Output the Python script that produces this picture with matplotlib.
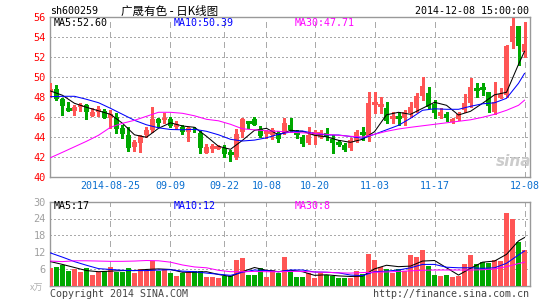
import matplotlib
matplotlib.use("Agg")
import matplotlib.pyplot as plt
import numpy as np

# daily candles 2014-08-11 .. 2014-12-08 (80 trading days)
opens = [48.53, 48.83, 47.80, 46.85, 46.66, 47.06, 47.23, 46.16, 46.56, 46.63,
         45.90, 46.00, 44.90, 44.23, 43.06, 43.46, 44.23, 44.73, 45.80, 45.73,
         45.80, 45.06, 45.06, 44.50, 44.85, 44.46, 42.46, 42.96, 42.83, 42.90,
         42.45, 42.06, 44.56, 45.55, 45.80, 44.80, 44.48, 44.20, 44.40, 44.46,
         45.23, 44.42, 44.00, 43.46, 44.38, 44.06, 44.46, 43.80, 43.52, 43.23,
         42.90, 43.66, 44.42, 44.10, 47.36, 47.16, 46.90, 46.03, 46.08, 45.90,
         46.40, 46.96, 48.16, 48.40, 47.30, 46.16, 46.33, 45.50, 45.83, 46.73,
         47.40, 48.85, 48.92, 48.50, 46.50, 47.96, 48.23, 53.56, 55.16, 52.56]
highs = [49.46, 49.23, 47.90, 47.50, 47.23, 47.46, 47.33, 46.90, 47.13, 46.80,
         46.73, 46.40, 45.23, 45.06, 43.73, 44.23, 45.06, 47.00, 45.90, 46.46,
         46.00, 45.66, 45.23, 45.06, 45.06, 44.66, 43.33, 43.33, 43.20, 43.23,
         42.73, 44.80, 45.90, 45.56, 46.00, 45.13, 44.73, 44.90, 44.66, 45.90,
         45.90, 44.73, 44.23, 45.06, 44.73, 44.73, 44.90, 44.23, 43.73, 43.40,
         43.90, 44.73, 45.06, 48.50, 48.56, 48.06, 47.50, 46.56, 46.56, 46.73,
         47.50, 48.40, 50.06, 49.06, 47.73, 46.90, 46.56, 45.96, 46.50, 48.30,
         49.90, 49.40, 49.40, 48.56, 49.56, 48.96, 53.23, 55.90, 55.16, 55.50]
lows = [48.06, 47.75, 46.26, 46.60, 46.26, 46.66, 45.80, 46.10, 46.16, 45.90,
        44.96, 44.46, 43.90, 42.66, 42.66, 42.56, 44.06, 44.56, 45.06, 45.40,
        45.06, 44.80, 44.33, 43.63, 44.50, 42.46, 42.40, 42.50, 42.80, 42.06,
        41.66, 41.80, 44.06, 44.90, 45.23, 44.06, 43.90, 43.80, 43.56, 44.33,
        44.56, 43.90, 43.16, 43.33, 43.33, 43.90, 43.73, 42.46, 43.10, 42.66,
        42.73, 43.56, 43.73, 43.60, 46.40, 46.40, 45.40, 45.40, 45.23, 45.23,
        46.06, 46.56, 47.73, 46.90, 45.90, 45.90, 45.63, 45.40, 45.73, 46.56,
        47.06, 48.06, 48.23, 46.50, 46.30, 47.90, 48.06, 52.96, 51.23, 52.06]
closes = [48.80, 47.80, 47.16, 46.80, 47.00, 47.20, 46.56, 46.56, 46.80, 45.96,
          46.33, 44.83, 44.33, 42.90, 43.53, 44.13, 44.73, 45.80, 45.46, 45.96,
          45.16, 45.30, 44.50, 44.90, 44.75, 42.90, 43.06, 43.00, 43.13, 42.33,
          42.40, 44.33, 45.80, 45.50, 45.23, 44.16, 44.52, 44.70, 43.83, 45.46,
          44.73, 44.38, 43.33, 44.23, 44.42, 44.56, 44.00, 43.40, 43.48, 42.73,
          43.73, 44.56, 44.38, 47.45, 47.40, 47.20, 45.63, 46.06, 46.04, 46.50,
          47.06, 48.16, 49.16, 47.06, 46.40, 46.56, 45.90, 45.83, 46.30, 47.40,
          49.06, 48.81, 48.88, 47.16, 47.50, 48.30, 53.16, 55.16, 53.16, 53.30]
# volume, x10k lots
volumes = [6.2, 6.8, 7.55, 5.4, 5.8, 4.8, 6.2, 4.0, 4.8, 5.4,
           6.6, 4.8, 4.8, 6.4, 4.4, 5.8, 5.1, 8.8, 5.1, 6.0,
           4.4, 3.6, 4.5, 4.8, 5.1, 5.4, 3.2, 3.2, 2.6, 3.6,
           3.6, 9.35, 10.0, 4.0, 4.0, 6.4, 3.2, 5.6, 4.4, 10.4,
           4.8, 3.2, 3.2, 4.4, 2.6, 4.4, 4.0, 3.6, 2.6, 2.6,
           2.6, 5.1, 4.2, 11.2, 9.35, 6.8, 5.8, 4.4, 5.8, 5.4,
           10.8, 10.4, 12.6, 7.2, 4.0, 3.6, 4.0, 3.0, 3.6, 7.6,
           10.8, 7.6, 8.4, 8.0, 9.35, 8.8, 26.0, 23.7, 15.6, 12.8]

# moving averages at candles 0,2,4,...,78 and 79
ma_days = list(range(0, 80, 2)) + [79]
ma5 = [48.63, 48.2, 47.4, 47.0, 46.65, 46.3, 45.4, 44.25, 44.0, 44.9,
       45.45, 45.13, 45.0, 44.1, 43.1, 42.8, 43.7, 44.7, 44.9, 44.25,
       44.7, 44.6, 44.2, 44.05, 43.7, 43.5, 43.8, 44.56, 46.25, 46.5,
       46.3, 46.9, 47.5, 47.2, 46.23, 46.6, 47.4, 48.25, 48.5, 51.3, 52.6]
ma10 = [48.06, 48.1, 48.1, 47.8, 47.46, 46.9, 46.3, 45.7, 45.25, 44.95,
        44.78, 44.75, 44.8, 44.6, 44.25, 43.8, 43.63, 43.72, 43.95, 44.3,
        44.53, 44.63, 44.38, 44.23, 44.23, 44.08, 43.9, 44.3, 44.75, 45.2,
        45.9, 46.7, 46.85, 46.8, 46.8, 47.1, 47.35, 47.45, 47.9, 49.4, 50.39]
ma30 = [41.96, 42.5, 43.05, 43.6, 44.2, 45.0, 45.4, 45.7, 46.1, 46.5,
        46.5, 46.4, 46.15, 45.8, 45.65, 45.3, 44.85, 44.75, 44.65, 44.6,
        44.5, 44.45, 44.4, 44.3, 44.2, 44.1, 44.03, 44.3, 44.6, 44.83,
        45.0, 45.15, 45.3, 45.45, 45.6, 45.75, 46.0, 46.3, 46.7, 47.2, 47.71]
vma5 = [8.6, 7.6, 6.5, 5.4, 5.0, 5.2, 5.4, 5.4, 5.8, 6.0,
        5.8, 4.8, 4.8, 5.0, 4.0, 3.3, 5.0, 6.5, 5.5, 5.0,
        5.5, 5.0, 3.7, 3.9, 3.5, 3.3, 3.4, 6.0, 7.3, 6.8,
        7.0, 8.8, 9.0, 6.4, 3.8, 6.2, 8.4, 8.8, 11.2, 16.0, 17.2]
vma10 = [11.7, 10.2, 8.6, 7.3, 6.1, 5.8, 5.5, 5.4, 5.4, 5.6,
         5.7, 5.2, 5.0, 4.5, 4.1, 3.7, 4.8, 5.6, 5.4, 5.0,
         5.6, 5.6, 4.9, 4.8, 4.6, 3.8, 3.6, 5.0, 5.2, 5.6,
         6.4, 7.6, 7.6, 6.6, 6.4, 6.4, 6.2, 6.4, 8.0, 11.0, 12.4]
vma30 = [8.8, 8.6, 8.9, 8.9, 8.8, 8.7, 8.7, 8.8, 9.0, 8.9,
         8.4, 7.4, 6.7, 6.4, 5.5, 5.0, 5.0, 5.1, 5.0, 5.0,
         5.1, 5.1, 4.9, 4.8, 4.6, 4.5, 4.7, 4.8, 4.9, 5.1,
         5.3, 5.5, 5.6, 5.6, 5.6, 5.6, 5.7, 6.0, 6.8, 7.9, 8.4]

date_pos = [10, 20, 29, 36, 44, 54, 64, 79]
date_labels = ["2014-08-25", "09-09", "09-22", "10-08", "10-20", "11-03", "11-17", "12-08"]
price_ticks = [40, 42, 44, 46, 48, 50, 52, 54, 56]
vol_ticks = [6, 12, 18, 24, 30]

RED = "#ff5555"
GREEN = "#00a800"
GRID = "#aaaaaa"
BORDER = "#999999"
MONO = "DejaVu Sans Mono"
W, H = 545, 300

fig = plt.figure(figsize=(W / 100, H / 100), dpi=100)
ax = fig.add_axes([50 / W, 1 - 177.3 / H, 479.5 / W, 160 / H])
axv = fig.add_axes([50 / W, 1 - 285.7 / H, 479.5 / W, 84 / H])

n = len(closes)
x = np.arange(n)
up = [c >= o for o, c in zip(opens, closes)]
cols = [RED if u else GREEN for u in up]

# candles
for i in range(n):
    ax.vlines(x[i], lows[i], highs[i], color=cols[i], lw=0.8, zorder=3, antialiased=False)
    lo, hi = min(opens[i], closes[i]), max(opens[i], closes[i])
    if hi - lo < 0.08:
        ax.hlines(closes[i], x[i] - 0.38, x[i] + 0.38, color=cols[i], lw=1.0, zorder=3,
                  antialiased=False)
    else:
        ax.bar(x[i], hi - lo, bottom=lo, width=0.75, color=cols[i], lw=0, zorder=3,
               antialiased=False)

ma_style = dict(lw=0.75, zorder=4)
ax.plot(ma_days, ma5, color="black", **ma_style)
ax.plot(ma_days, ma10, color="#0000ff", **ma_style)
ax.plot(ma_days, ma30, color="#ff00ff", **ma_style)

axv.bar(x, volumes, width=0.72, color=cols, lw=0, zorder=3, antialiased=False)
axv.plot(ma_days, vma5, color="black", **ma_style)
axv.plot(ma_days, vma10, color="#0000ff", **ma_style)
axv.plot(ma_days, vma30, color="#ff00ff", **ma_style)

for a in (ax, axv):
    a.set_xlim(-0.08, 79.83)
    for s in a.spines.values():
        s.set_color(BORDER)
        s.set_linewidth(1.0)
    for p in date_pos:
        a.axvline(p, color=GRID, lw=1.0, ls=(0, (4, 3)), zorder=1, antialiased=False)
    a.tick_params(length=0)

ax.set_ylim(40, 56)
ax.set_yticks(price_ticks)
ax.set_yticklabels([str(t) for t in price_ticks], color="#ff0000", family=MONO, fontsize=7.4)
ax.tick_params(axis="y", pad=3)
for t in price_ticks[1:-1]:
    ax.axhline(t, color=GRID, lw=0.9, ls=(0, (1, 2)), zorder=1, antialiased=False)
ax.set_xticks(date_pos)
ax.set_xticklabels(date_labels, color="#0a6fd0", family=MONO, fontsize=7.2)
ax.tick_params(axis="x", pad=3)

axv.set_ylim(0, 30)
axv.set_yticks(vol_ticks)
axv.set_yticklabels([str(t) for t in vol_ticks], color="#a0a0a0", family=MONO, fontsize=7.4)
axv.tick_params(axis="y", pad=3)
for t in vol_ticks[:-1]:
    axv.axhline(t, color=GRID, lw=0.9, ls=(0, (1, 2)), zorder=1, antialiased=False)
axv.set_xticks([])


def px(xp, yp, s, **kw):
    fig.text(xp / W, 1 - yp / H, s, va="center", **kw)


px(50, 11, "sh600259", family=MONO, fontsize=7.2, color="black")
px(121, 11, "广晟有色 - 日K线图", family=["Noto Sans CJK SC", "DejaVu Sans"], fontsize=8.3, color="black")
px(529, 11, "2014-12-08 15:00:00", family=MONO, fontsize=7.2, color="black", ha="right")

px(54, 23.5, "MA5:%.2f" % ma5[-1], family=MONO, fontsize=7.2, color="black")
px(174, 23.5, "MA10:%.2f" % ma10[-1], family=MONO, fontsize=7.2, color="#0000ff")
px(295, 23.5, "MA30:%.2f" % ma30[-1], family=MONO, fontsize=7.2, color="#ff00ff")

px(54, 206, "MA5:%d" % round(vma5[-1]), family=MONO, fontsize=7.2, color="black")
px(174, 206, "MA10:%d" % round(vma10[-1]), family=MONO, fontsize=7.2, color="#0000ff")
px(295, 206, "MA30:%d" % round(vma30[-1]), family=MONO, fontsize=7.2, color="#ff00ff")

px(30, 288, "x万", family=["Noto Sans CJK SC", "DejaVu Sans"], fontsize=6.5, color="#b0b0b0")
px(50, 294, "Copyright 2014 SINA.COM", family=MONO, fontsize=7.2, color="#444444")
px(529, 294, "http://finance.sina.com.cn", family=MONO, fontsize=7.2, color="#444444", ha="right")
px(496, 162, "sina", family="DejaVu Sans", fontsize=11, color="#cccccc",
   fontweight="bold", style="italic", zorder=0)

fig.savefig("out.png", dpi=100)
